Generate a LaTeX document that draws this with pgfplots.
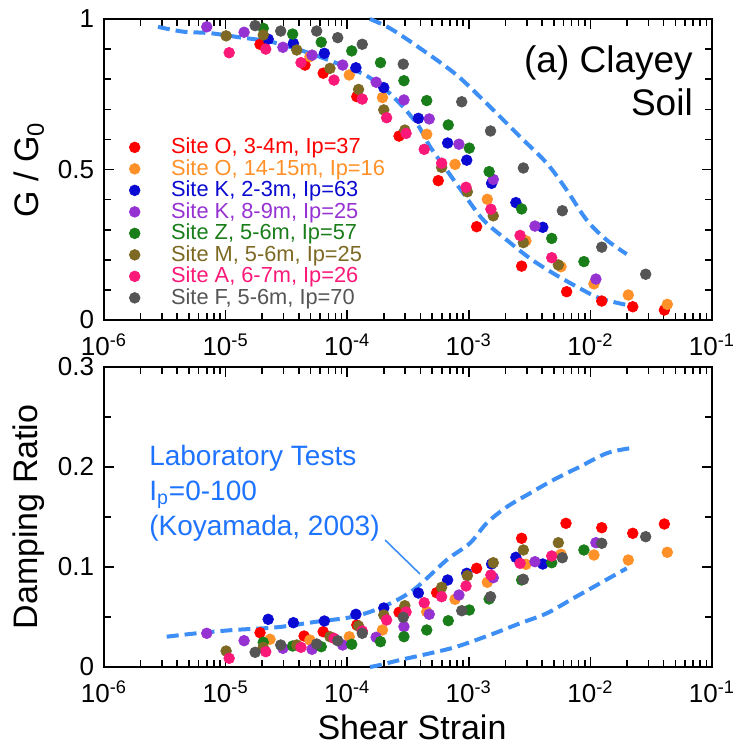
\documentclass[border=0pt]{standalone}
\usepackage{pgfplots}
\pgfplotsset{compat=1.18}
\usepackage{fontspec}
\setmainfont{Liberation Sans}

% series colours
\definecolor{cRed}{RGB}{255,0,0}
\definecolor{cOrange}{RGB}{255,145,40}
\definecolor{cBlue}{RGB}{10,10,210}
\definecolor{cPurple}{RGB}{150,50,210}
\definecolor{cGreen}{RGB}{25,125,25}
\definecolor{cOlive}{RGB}{125,105,35}
\definecolor{cPink}{RGB}{250,25,120}
\definecolor{cGray}{RGB}{85,85,85}
\definecolor{labLine}{RGB}{61,142,245}
\definecolor{labText}{RGB}{30,115,255}

\pgfplotsset{
  soilaxis/.style={
    scale only axis, width=304pt,
    xmin=1e-6, xmax=1e-1,
    clip=false,
    axis line style={line width=1pt},
    every tick/.style={black, line width=0.8pt},
    major tick length=5pt, minor tick length=3.5pt,
    xtick={1e-6,1e-5,1e-4,1e-3,1e-2,1e-1},
    xticklabels={10\textsuperscript{-6},10\textsuperscript{-5},10\textsuperscript{-4},10\textsuperscript{-3},10\textsuperscript{-2},10\textsuperscript{-1}},
    tick label style={font=\fontsize{13}{13}\selectfont, inner sep=1pt},
    xticklabel style={yshift=-5.9pt},
    yticklabel style={xshift=-3.8pt},
    every axis y label/.style={at={(axis description cs:-0.123,0.5)}, rotate=90, anchor=center, font=\fontsize{17}{17}\selectfont},
    every axis x label/.style={at={(axis description cs:0.5066,-0.2)}, anchor=center, font=\fontsize{17}{17}\selectfont},
  },
  sitemarks/.style={only marks, mark=*, mark size=2.7pt, color=#1, mark options={fill=#1, draw=#1, line width=0.3pt}},
  labcurve/.style={smooth, tension=0.55, line width=2pt, color=labLine, dash pattern=on 6pt off 3pt, forget plot},
}

\begin{document}
\begin{tikzpicture}
\useasboundingbox (-52pt,-213pt) rectangle (317.5pt,160pt);

% ---------------- (a) modulus reduction ----------------
\begin{axis}[soilaxis, xmode=log,
  at={(0pt,0pt)}, anchor=south west, height=150.5pt,
  ymin=0, ymax=1,
  ytick={0,0.5,1}, yticklabels={0,0.5,1},
  minor ytick={0.1,0.2,0.3,0.4,0.6,0.7,0.8,0.9},
  ylabel={G / G\textsubscript{0}},
  legend style={at={(axis description cs:0.041,0.6106)}, anchor=north west,
    draw=none, fill=none, inner sep=0pt, row sep=0pt,
    font=\fontsize{10.9}{11.5}\selectfont,
    nodes={inner sep=0pt, text height=8.5pt, text depth=2.25pt},
    /tikz/every odd column/.append style={column sep=15.5pt}},
  legend cell align=left,
]
\addplot[sitemarks=cRed] coordinates {
 (1.92e-5,0.916) (4.50e-5,0.847) (6.35e-5,0.820) (1.20e-4,0.742) (2.67e-4,0.611)
 (5.61e-4,0.463) (1.16e-3,0.310) (2.72e-3,0.179) (6.38e-3,0.094) (1.24e-2,0.063)
 (2.23e-2,0.044) (4.06e-2,0.033)};
\addlegendentry{\textcolor{cRed}{Site O, 3-4m, Ip=37}}
\addplot[sitemarks=cOrange] coordinates {
 (4.94e-5,0.875) (1.04e-4,0.814) (1.95e-4,0.739) (4.51e-4,0.617) (7.71e-4,0.517)
 (1.42e-3,0.401) (2.95e-3,0.263) (5.73e-3,0.177) (1.07e-2,0.120) (2.05e-2,0.083)
 (4.29e-2,0.052)};
\addlegendentry{\textcolor{cOrange}{Site O, 14-15m, Ip=16}}
\addplot[sitemarks=cBlue] coordinates {
 (2.24e-5,0.933) (3.61e-5,0.919) (6.49e-5,0.886) (1.18e-4,0.838) (2.00e-4,0.772)
 (3.85e-4,0.670) (6.70e-4,0.588) (9.62e-4,0.531) (1.54e-3,0.454) (2.44e-3,0.390)
 (4.06e-3,0.308)};
\addlegendentry{\textcolor{cBlue}{Site K, 2-3m, Ip=63}}
\addplot[sitemarks=cPurple] coordinates {
 (7.0e-6,0.974) (1.42e-5,0.956) (2.96e-5,0.906) (5.14e-5,0.880) (9.18e-5,0.847)
 (1.73e-4,0.790) (2.93e-4,0.731) (4.73e-4,0.668) (8.30e-4,0.584) (1.59e-3,0.467)
 (3.50e-3,0.312) (1.11e-2,0.136)};
\addlegendentry{\textcolor{cPurple}{Site K, 8-9m, Ip=25}}
\addplot[sitemarks=cGreen] coordinates {
 (2.04e-5,0.969) (3.56e-5,0.950) (6.12e-5,0.923) (1.09e-4,0.894) (1.88e-4,0.855)
 (2.93e-4,0.795) (4.51e-4,0.729) (6.78e-4,0.648) (1.01e-3,0.571) (1.47e-3,0.493)
 (2.72e-3,0.369) (4.81e-3,0.271) (8.85e-3,0.194)};
\addlegendentry{\textcolor{cGreen}{Site Z, 5-6m, Ip=57}}
\addplot[sitemarks=cOlive] coordinates {
 (1.01e-5,0.944) (2.04e-5,0.947) (3.85e-5,0.897) (7.22e-5,0.836) (1.24e-4,0.766)
 (2.00e-4,0.698) (2.98e-4,0.631) (5.98e-4,0.507) (9.73e-4,0.426) (1.59e-3,0.346)
 (2.81e-3,0.257) (5.45e-3,0.183)};
\addlegendentry{\textcolor{cOlive}{Site M, 5-6m, Ip=25}}
\addplot[sitemarks=cPink] coordinates {
 (1.07e-5,0.888) (2.14e-5,0.900) (4.17e-5,0.855) (7.79e-5,0.797) (1.33e-4,0.734)
 (2.11e-4,0.672) (3.05e-4,0.620) (4.30e-4,0.567) (5.98e-4,0.521) (9.49e-4,0.441)
 (1.52e-3,0.368) (2.64e-3,0.281) (4.81e-3,0.207)};
\addlegendentry{\textcolor{cPink}{Site A, 6-7m, Ip=26}}
\addplot[sitemarks=cGray] coordinates {
 (1.75e-5,0.978) (2.84e-5,0.960) (5.61e-5,0.960) (8.36e-5,0.938) (1.33e-4,0.916)
 (2.89e-4,0.850) (8.75e-4,0.725) (1.51e-3,0.628) (2.81e-3,0.505) (5.88e-3,0.363)
 (1.24e-2,0.242) (2.85e-2,0.152)};
\addlegendentry{\textcolor{cGray}{Site F, 5-6m, Ip=70}}

% laboratory band (lower and upper bounds)
\addplot[labcurve] coordinates {
 (2.78e-6,0.974) (4.47e-6,0.958) (7.45e-6,0.953) (1.31e-5,0.939) (2.32e-5,0.925)
 (4.09e-5,0.897) (7.64e-5,0.858) (1.45e-4,0.811) (2.39e-4,0.742) (3.73e-4,0.653)
 (4.80e-4,0.576) (6.58e-4,0.498) (9.02e-4,0.421) (1.32e-3,0.332) (2.05e-3,0.266)
 (3.18e-3,0.205) (4.95e-3,0.155) (8.20e-3,0.105) (1.20e-2,0.072) (1.99e-2,0.050)};
\addplot[labcurve] coordinates {
 (1.54e-4,1.000) (2.25e-4,0.969) (3.97e-4,0.903) (7.94e-4,0.814) (1.49e-3,0.709)
 (2.64e-3,0.609) (4.38e-3,0.521) (6.38e-3,0.432) (9.33e-3,0.332) (1.36e-2,0.266)
 (1.99e-2,0.219)};

\node[anchor=north east, align=right, inner sep=0pt, font=\fontsize{18.5}{21.5}\selectfont]
  at (axis description cs:0.969,0.9136) {(a) Clayey\\Soil};
\end{axis}

% ---------------- damping ratio ----------------
\begin{axis}[soilaxis, xmode=log,
  at={(0pt,-173.5pt)}, anchor=south west, height=150pt,
  ymin=0, ymax=0.3,
  ytick={0,0.1,0.2,0.3}, yticklabels={0,0.1,0.2,0.3},
  minor ytick={0.05,0.15,0.25},
  ylabel={Damping Ratio},
  xlabel={Shear Strain},
]
\addplot[sitemarks=cRed] coordinates {
 (1.92e-5,0.0343) (4.42e-5,0.0310) (6.35e-5,0.0353) (1.20e-4,0.0420) (2.67e-4,0.0547)
 (5.44e-4,0.0743) (1.16e-3,0.0987) (2.72e-3,0.1287) (6.30e-3,0.1437) (1.24e-2,0.1393)
 (2.23e-2,0.1337) (4.06e-2,0.1430)};
\addplot[sitemarks=cOrange] coordinates {
 (2.32e-5,0.0277) (4.94e-5,0.0270) (1.04e-4,0.0303) (1.95e-4,0.0370) (4.51e-4,0.0553)
 (7.71e-4,0.0677) (1.42e-3,0.0847) (2.95e-3,0.1027) (5.73e-3,0.1127) (1.07e-2,0.1120)
 (2.05e-2,0.1070) (4.29e-2,0.1147)};
\addplot[sitemarks=cBlue] coordinates {
 (2.24e-5,0.0477) (3.61e-5,0.0443) (6.49e-5,0.0460) (1.18e-4,0.0527) (2.00e-4,0.0590)
 (3.85e-4,0.0740) (6.70e-4,0.0870) (9.62e-4,0.0937) (1.54e-3,0.1030) (2.44e-3,0.1097)
 (4.06e-3,0.1030)};
\addplot[sitemarks=cPurple] coordinates {
 (7.0e-6,0.0337) (1.42e-5,0.0263) (2.96e-5,0.0187) (5.14e-5,0.0177) (9.18e-5,0.0220)
 (1.73e-4,0.0297) (2.93e-4,0.0403) (4.73e-4,0.0527) (8.30e-4,0.0720) (1.59e-3,0.0893)
 (3.50e-3,0.1053) (1.11e-2,0.1243)};
\addplot[sitemarks=cGreen] coordinates {
 (2.04e-5,0.0247) (3.56e-5,0.0210) (6.12e-5,0.0203) (1.09e-4,0.0227) (1.88e-4,0.0253)
 (2.93e-4,0.0303) (4.51e-4,0.0370) (6.78e-4,0.0463) (1.01e-3,0.0570) (1.47e-3,0.0680)
 (2.72e-3,0.0870) (4.81e-3,0.1043) (8.85e-3,0.1170)};
\addplot[sitemarks=cOlive] coordinates {
 (1.01e-5,0.0160) (2.04e-5,0.0197) (3.85e-5,0.0220) (7.22e-5,0.0303) (1.24e-4,0.0410)
 (2.00e-4,0.0520) (2.98e-4,0.0613) (5.98e-4,0.0797) (9.73e-4,0.0913) (1.59e-3,0.1043)
 (2.81e-3,0.1170) (5.45e-3,0.1243)};
\addplot[sitemarks=cPink] coordinates {
 (1.07e-5,0.0087) (2.14e-5,0.0153) (4.17e-5,0.0197) (7.79e-5,0.0287) (1.33e-4,0.0360)
 (2.11e-4,0.0470) (3.05e-4,0.0550) (4.30e-4,0.0643) (5.98e-4,0.0703) (9.49e-4,0.0810)
 (1.52e-3,0.0920) (2.64e-3,0.1037) (4.81e-3,0.1110)};
\addplot[sitemarks=cGray] coordinates {
 (1.75e-5,0.0147) (2.84e-5,0.0220) (5.61e-5,0.0230) (8.36e-5,0.0263) (1.33e-4,0.0337)
 (2.89e-4,0.0497) (8.75e-4,0.0563) (1.51e-3,0.0703) (2.81e-3,0.0877) (5.88e-3,0.1093)
 (1.24e-2,0.1237) (2.85e-2,0.1303)};

\addplot[labcurve] coordinates {
 (3.28e-6,0.0303) (5.78e-6,0.0337) (1.16e-5,0.0370) (2.63e-5,0.0397) (5.60e-5,0.0453)
 (1.12e-4,0.0503) (1.98e-4,0.0603) (3.50e-4,0.0770) (6.58e-4,0.1070) (1.02e-3,0.1237)
 (1.40e-3,0.1437) (2.05e-3,0.1600) (3.18e-3,0.1737) (4.95e-3,0.1870) (8.20e-3,0.2003)
 (1.36e-2,0.2137) (2.11e-2,0.2187)};
\addplot[labcurve] coordinates {
 (1.54e-4,0.000) (1.86e-4,0.002) (2.72e-4,0.007) (4.80e-4,0.0137) (7.94e-4,0.0203)
 (1.49e-3,0.0320) (2.64e-3,0.0437) (4.38e-3,0.0537) (7.23e-3,0.0687) (1.20e-2,0.0837)
 (1.99e-2,0.0987)};

\draw[labLine, line width=0.8pt] (axis cs:2.05e-4,0.127) -- (axis cs:3.97e-4,0.093);
\node[anchor=north west, align=left, inner sep=0pt, text=labText, font=\fontsize{14}{17.5}\selectfont]
  at (axis cs:2.34e-6,0.2225) {Laboratory Tests\\I\textsubscript{p}=0-100\\(Koyamada, 2003)};
\end{axis}
\end{tikzpicture}
\end{document}
